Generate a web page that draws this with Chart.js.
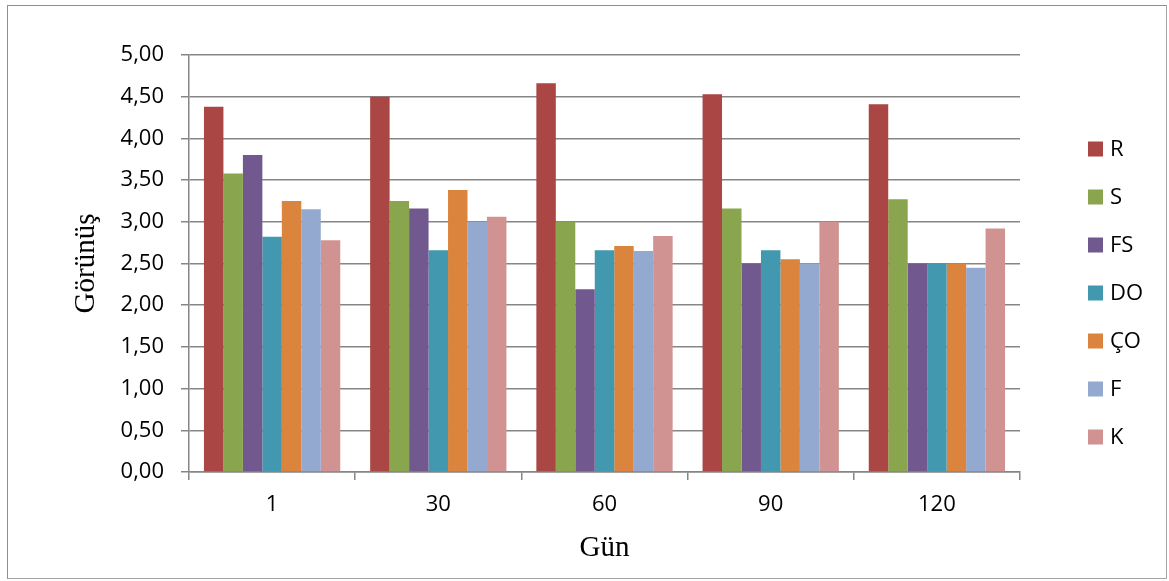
<!DOCTYPE html>
<html>
<head>
<meta charset="utf-8">
<script src="https://cdn.jsdelivr.net/npm/chart.js@4.4.1/dist/chart.umd.min.js"></script>
<style>
  html, body { margin: 0; padding: 0; background: #ffffff; }
  #wrap { position: relative; width: 1169px; height: 581px; }
  #frame { position: absolute; left: 7px; top: 5px; width: 1160px; height: 574px; border: 1px solid #a6a6a6; border-top-color: #8f8f8f; border-left-color: #8f8f8f; box-sizing: border-box; pointer-events: none; }
  canvas { position: absolute; left: 0; top: 0; }
</style>
</head>
<body>
<div id="wrap">
  <div id="frame"></div>
  <canvas id="c" width="1169" height="581"></canvas>
</div>
<script>
const categories = ['1', '30', '60', '90', '120'];
const seriesNames = ['R', 'S', 'FS', 'DO', 'ÇO', 'F', 'K'];
const R  = [4.38, 4.50, 4.66, 4.53, 4.41];
const S  = [3.58, 3.25, 3.00, 3.16, 3.27];
const FS = [3.80, 3.16, 2.19, 2.50, 2.50];
const DO = [2.82, 2.66, 2.66, 2.66, 2.50];
const CO = [3.25, 3.38, 2.71, 2.55, 2.50];
const F  = [3.15, 3.00, 2.65, 2.50, 2.45];
const K  = [2.78, 3.06, 2.83, 3.00, 2.92];
const yTickLabels = ['0,00','0,50','1,00','1,50','2,00','2,50','3,00','3,50','4,00','4,50','5,00'];
const yTitle = 'Görünüş';
const xTitle = 'Gün';

const seriesValues = [R, S, FS, DO, CO, F, K];
const colors = ['#AA4643', '#89A54E', '#71588F', '#4198AF', '#DB843D', '#93A9CF', '#D19392'];

const tickFont = { family: '"Open Sans", sans-serif', size: 22 };
const titleFont = { family: '"Liberation Serif", "Times New Roman", serif', size: 29 };

const legendPlugin = {
  id: 'sideLegend',
  afterDraw(chart) {
    const ctx = chart.ctx;
    ctx.save();
    ctx.font = '22px "Open Sans", sans-serif';
    ctx.textBaseline = 'middle';
    ctx.textAlign = 'left';
    chart.data.datasets.forEach((ds, i) => {
      const cy = 149 + i * 48;
      ctx.fillStyle = ds.backgroundColor;
      ctx.fillRect(1088, cy - 7.5, 15, 15);
      ctx.fillStyle = '#000000';
      ctx.fillText(ds.label, 1110, cy + 1);
    });
    ctx.restore();
  }
};

new Chart(document.getElementById('c'), {
  type: 'bar',
  data: {
    labels: categories,
    datasets: seriesNames.map((name, i) => ({
      label: name,
      data: seriesValues[i],
      backgroundColor: colors[i],
      borderWidth: 0,
      categoryPercentage: 0.82,
      barPercentage: 1.0
    }))
  },
  options: {
    responsive: false,
    animation: false,
    layout: { padding: { left: 60, right: 149, top: 55, bottom: 15 } },
    plugins: {
      legend: { display: false },
      tooltip: { enabled: false }
    },
    scales: {
      x: {
        grid: {
          offset: true,
          drawOnChartArea: false,
          drawTicks: true,
          tickLength: 8,
          color: '#868686',
          lineWidth: 1.5
        },
        border: { color: '#868686', width: 1.5 },
        ticks: { color: '#000000', font: tickFont, padding: 12, maxRotation: 0 },
        title: { display: true, text: xTitle, color: '#000000', font: titleFont, padding: { top: 12, bottom: 0 } },
        afterFit(scale) { scale.height = 94; }
      },
      y: {
        min: 0,
        max: 5,
        ticks: {
          stepSize: 0.5,
          color: '#000000',
          font: tickFont,
          padding: 17,
          callback: (v, idx) => yTickLabels[idx]
        },
        grid: { color: '#868686', lineWidth: 1.5, tickLength: 8, drawTicks: true },
        border: { color: '#868686', width: 1.5 },
        title: { display: true, text: yTitle, color: '#000000', font: titleFont, padding: { top: 9, bottom: 0 } },
        afterFit(scale) { scale.width = 129; }
      }
    }
  },
  plugins: [legendPlugin]
});
</script>
</body>
</html>
